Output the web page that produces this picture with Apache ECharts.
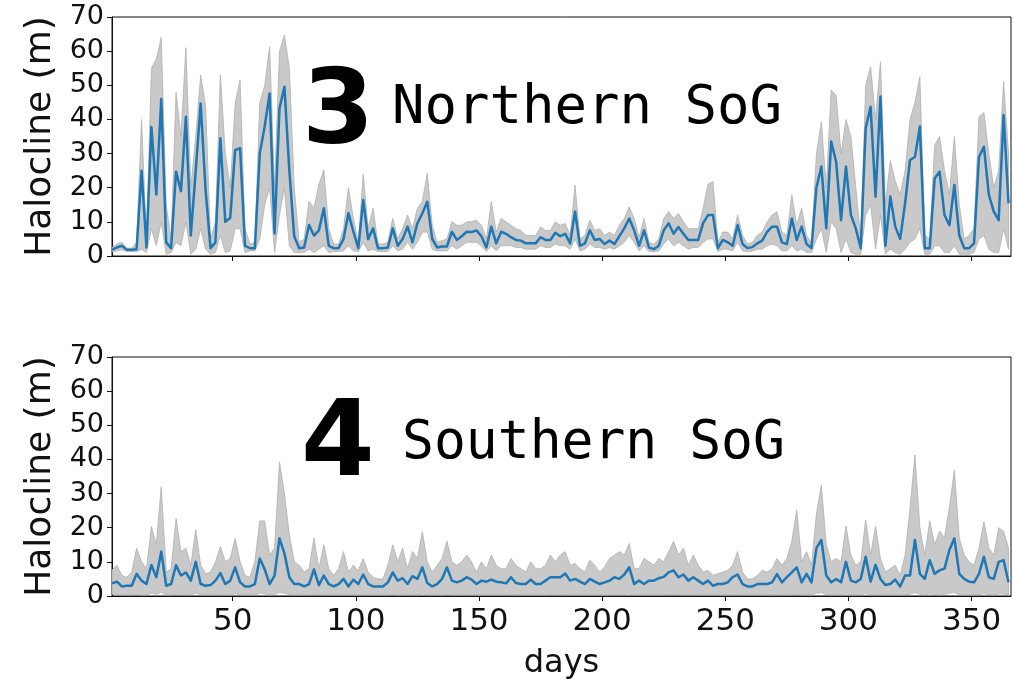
<!DOCTYPE html>
<html>
<head>
<meta charset="utf-8">
<script src="https://cdn.jsdelivr.net/npm/echarts@6/dist/echarts.min.js"></script>
<style>
  html, body { margin: 0; padding: 0; background: #fff; }
  #chart { width: 1015px; height: 687px; }
</style>
</head>
<body>
<div id="chart"></div>
<script>
// Day of year for each sample (every second day)
const days = [];
for (let d = 1; d <= 365; d += 2) days.push(d);

// Northern SoG halocline depth (m): mean and spread
const northMean = [
  1.8, 2.5, 3.0, 1.8, 1.8, 2.0, 25, 2.5, 37.8, 18, 46, 4, 2.3, 24.7, 19, 40.8, 6, 25, 44.7, 19.3,
  2.3, 4, 34.5, 10, 11.1, 31, 31.6, 3, 2.3, 2.3, 30, 38, 47.6, 6.6, 43.2, 49.6, 25, 5.7, 2.3, 2.5,
  9.1, 6, 7.5, 14, 3, 2.3, 2.3, 5, 12.5, 7.1, 2.3, 16.4, 4.9, 8.1, 2.3, 2.3, 2.5, 8.1, 3, 5,
  8.6, 4, 9.6, 12.5, 15.9, 5, 2.5, 2.8, 2.8, 7.1, 4.7, 5.8, 7.1, 7, 7.5, 5.8, 2.5, 8.6, 3.7, 7.1,
  6.5, 5.5, 4.7, 4.5, 3.7, 3.7, 3.7, 5.5, 4.7, 4.7, 6.8, 5.8, 6.5, 3.7, 13, 3, 3.7, 7.5, 4.7, 5,
  3.5, 4.5, 3.5, 5.8, 8.1, 11, 7.5, 3, 7.5, 2.5, 2.0, 3, 7.5, 9.6, 6.5, 8.5, 6.5, 4.7, 4.7, 4.7,
  9.6, 12, 12, 2.3, 4.7, 4, 3, 9.1, 3.5, 2.3, 2.6, 3.7, 4.5, 7.1, 8.6, 8.6, 4, 3.5, 11, 4.7,
  8.6, 3.5, 2.3, 20, 26.2, 8.1, 33.5, 27.6, 10.5, 26.2, 12, 8, 2.3, 37.4, 43.7, 17.4, 46.7, 3, 17.4, 8.6,
  5, 15.4, 28.1, 29, 37.9, 2.3, 2.3, 22.7, 24.7, 12, 9, 20.8, 6, 2.3, 2.3, 3.7, 29, 32, 18, 13,
  10.5, 41.3, 15.4
];
const northUpper = [
  2.5, 3.5, 4.0, 2.3, 2.3, 4, 40, 5, 55, 57.7, 64, 15, 5, 48, 35, 61, 20, 35, 53, 44,
  5, 10, 53, 30, 20, 44.7, 51.5, 8, 3.5, 4, 45, 50, 61.3, 20, 60, 64.7, 55, 20, 4, 5,
  16, 14, 21, 25.2, 8, 3.5, 3.5, 8, 20, 11, 4, 24, 8, 14, 3.5, 3.5, 4, 11, 5, 8,
  12, 8, 14, 16, 24.2, 9, 4, 4.5, 5, 10, 9, 9, 10, 10, 10.5, 9, 5, 16, 7, 11,
  10, 9, 8, 7.5, 6, 6, 6, 8.5, 7.5, 7.5, 10, 9, 9.5, 6, 20.8, 5, 6, 10.5, 7.5, 8,
  6, 7, 6, 9, 11, 14.4, 11, 5.5, 11, 4, 3.5, 5, 11, 13, 11, 12.5, 10, 8, 8, 8,
  14, 21, 21.8, 4, 7, 7, 5, 12, 6, 3.5, 4, 6, 7, 10, 12, 13, 7, 6, 17.9, 9,
  14, 6, 4, 30, 39.3, 20, 48.6, 47, 30, 40, 35, 20, 5, 50, 55.4, 40, 56.9, 15, 28, 22,
  18, 25, 40, 45, 52.5, 6, 5, 32.5, 35, 25, 18, 35, 15, 5, 6, 8, 40.8, 42, 30, 20,
  25, 51, 30
];
const northLower = [
  1.2, 1.5, 1.8, 1.3, 1.3, 1.3, 2, 1, 8, 3, 10, 0.5, 1, 4, 3, 10, 0.5, 2, 8, 2,
  0.5, 1, 6, 1, 1.5, 8, 8, 1, 1.5, 1.5, 5, 15, 20, 1, 12, 20, 3, 1, 1, 1,
  2, 1, 2, 3, 1, 1.3, 1.3, 1.5, 3, 1.5, 1.3, 4, 1.5, 2, 1.3, 1.3, 1.3, 3, 1.5, 2,
  4, 2, 4, 7, 7, 2, 1.5, 1.5, 1.5, 3, 2, 3, 4, 4, 4, 3, 1.3, 3, 1.5, 3,
  3, 3, 2.5, 2.5, 2, 2, 2, 3, 2.5, 2.5, 3.5, 3, 3, 2, 5, 1.5, 2, 3.5, 2.5, 2.5,
  2, 2.5, 2, 3, 4, 6, 4, 1.5, 3, 1.3, 1.2, 1.5, 3.5, 5, 3, 4, 3, 2, 2.5, 2.5,
  4, 5, 5, 1.3, 2, 2, 1.5, 4, 1.5, 1.3, 1.4, 2, 2, 3, 3.5, 3, 1.5, 1.5, 3, 1.5,
  2, 1, 1, 5, 8, 1, 10, 8, 1, 5, 1, 0.5, 0.5, 12, 15, 2, 12, 0.5, 2, 1,
  0.5, 2, 4, 5, 8, 0.5, 0.5, 3, 3, 1, 1, 3, 0.5, 0.5, 0.5, 1, 5, 6, 2, 1,
  1, 8, 2
];

// Southern SoG halocline depth (m): mean and spread
const southMean = [
  3.7, 4.2, 2.8, 3, 3, 6.5, 4.5, 3.5, 9.1, 5.5, 13, 3, 3.5, 9, 6, 6.9, 4.5, 10, 3.5, 3,
  3.2, 4.5, 6.7, 3.5, 4.5, 8.4, 4, 2.8, 2.8, 3.5, 11, 7.8, 3.5, 6, 16.9, 12.5, 5.5, 3.5, 3.5, 2.8,
  3.5, 7.8, 3.2, 6, 3.5, 2.8, 3.5, 5, 2.8, 4.8, 3.5, 6.3, 3.5, 2.8, 2.8, 2.8, 4, 6.9, 4.5, 5.2,
  3.5, 5.8, 5, 8.4, 3.8, 2.8, 3.5, 5, 8.4, 4.5, 4, 4.5, 5.5, 4.8, 3.5, 4.5, 4.2, 4.8, 4.2, 4,
  3.7, 5.5, 3.8, 3.5, 3.5, 4.8, 3.5, 3.5, 4.5, 5.5, 5.5, 5.5, 6.6, 4.5, 5, 4.2, 3.5, 5, 4.2, 3.5,
  4, 4.5, 5.5, 5, 6.3, 8.4, 3.5, 4.5, 3.5, 4.5, 4.5, 5.2, 5.6, 6.9, 7.5, 5.5, 6.3, 4.5, 5.5, 4.5,
  3.5, 4.5, 3, 3.5, 3.5, 4, 5.5, 6.3, 3.5, 2.8, 2.8, 3.5, 3.5, 3.5, 4, 6.4, 4, 5.5, 6.9, 8.4,
  4, 6.5, 4, 14, 16.4, 6, 4, 5, 4, 10, 4.5, 4, 5, 11.5, 4.2, 9.1, 5, 3.2, 3.5, 4.8,
  2.8, 6, 6, 16.4, 6.5, 5, 10.5, 6.5, 7.5, 8, 13.5, 16.9, 6.5, 5, 4.2, 4, 6.5, 11.5, 5.5, 5,
  10, 10.5, 4
];
const southUpper = [
  7.6, 9, 6, 5.5, 7, 14, 10, 8, 20.3, 15, 32, 7, 8, 22.7, 13, 14, 9, 19.5, 9, 6.5,
  7, 10, 14.5, 10, 11, 16.9, 10, 6, 5.5, 10, 22, 22, 12, 14, 39.3, 30, 18, 10, 9, 7,
  8, 17, 8, 15, 8, 6, 8, 13, 7, 9, 7.5, 11, 7, 5.5, 5, 5, 9, 15, 10, 14,
  8, 13, 11, 18.8, 10, 7, 9, 11, 16, 10, 9, 10, 12, 10, 7, 10, 8, 12, 9, 8,
  8, 11, 9, 8, 7, 10, 8, 8, 9, 12, 10, 12, 13, 9, 9.5, 8, 7, 10.5, 9, 7,
  8.5, 11, 12, 13, 12, 15.4, 8, 8, 11, 10, 9, 11, 10, 13, 16, 12, 14, 9, 12, 9,
  7, 7.5, 6, 6.5, 7, 7.5, 9, 13, 7, 5, 5, 6, 7.5, 7, 8, 11, 9, 11, 16, 25.2,
  10, 13, 9, 24, 32.5, 15, 10, 11, 10, 20.5, 12, 9, 10, 22.3, 12, 20.5, 11, 7, 8, 9,
  6, 12, 25.7, 41.3, 20, 12, 22, 15, 19, 17, 26, 36.9, 17, 12, 10, 9, 14, 21.8, 14, 12,
  20, 19, 14
];
const southLower = [
  0.5, 0.5, 0.3, 0.3, 0.3, 0.5, 0.3, 0.3, 0.8, 0.5, 1, 0.3, 0.3, 0.5, 0.5, 0.5, 0.3, 0.8, 0.3, 0.3,
  0.3, 0.3, 0.5, 0.3, 0.3, 0.6, 0.3, 0.3, 0.3, 0.3, 0.8, 0.6, 0.3, 0.4, 1, 0.8, 0.4, 0.3, 0.3, 0.3,
  0.3, 0.5, 0.3, 0.4, 0.3, 0.3, 0.3, 0.3, 0.3, 0.3, 0.3, 0.4, 0.3, 0.3, 0.3, 0.3, 0.3, 0.5, 0.3, 0.3,
  0.3, 0.4, 0.3, 0.6, 0.3, 0.3, 0.3, 0.3, 0.5, 0.3, 0.3, 0.3, 0.4, 0.3, 0.3, 0.3, 0.3, 0.3, 0.3, 0.3,
  0.3, 0.4, 0.3, 0.3, 0.3, 0.3, 0.3, 0.3, 0.3, 0.4, 0.4, 0.4, 0.4, 0.3, 0.3, 0.3, 0.3, 0.3, 0.3, 0.3,
  0.3, 0.3, 0.4, 0.3, 0.4, 0.6, 0.3, 0.3, 0.3, 0.3, 0.3, 0.3, 0.4, 0.4, 0.5, 0.4, 0.4, 0.3, 0.4, 0.3,
  0.3, 0.3, 0.3, 0.3, 0.3, 0.3, 0.3, 0.4, 0.3, 0.3, 0.3, 0.3, 0.3, 0.3, 0.3, 0.4, 0.3, 0.3, 0.4, 0.5,
  0.3, 0.4, 0.3, 0.8, 1, 0.4, 0.3, 0.3, 0.3, 0.6, 0.3, 0.3, 0.3, 0.7, 0.3, 0.5, 0.3, 0.3, 0.3, 0.3,
  0.3, 0.4, 0.5, 1, 0.5, 0.3, 0.6, 0.4, 0.5, 0.5, 0.8, 1, 0.4, 0.3, 0.3, 0.3, 0.4, 0.7, 0.4, 0.3,
  0.6, 0.6, 0.3
];

const dayTicks = [50, 100, 150, 200, 250, 300, 350];

const BLUE = '#1f77b4';
const BAND = '#c9c9c9';
const BAND_EDGE = '#b0b0b0';
const INK = '#111';

const pairs = (vals) => days.map((d, i) => [d, vals[i]]);

// Shaded spread drawn as one polygon: upper edge forward, lower edge back
function bandRenderer(hi, lo) {
  return function (params, api) {
    const pts = [];
    for (let i = 0; i < days.length; i++) pts.push(api.coord([days[i], hi[i]]));
    for (let i = days.length - 1; i >= 0; i--) pts.push(api.coord([days[i], lo[i]]));
    return {
      type: 'polygon',
      shape: { points: pts },
      style: { fill: BAND, stroke: BAND_EDGE, lineWidth: 0.8 }
    };
  };
}

function panelSeries(idx, hi, lo, mean) {
  return [
    {
      type: 'custom', xAxisIndex: idx, yAxisIndex: idx,
      data: [[days[0], hi[0]]], silent: true, clip: true, z: 2,
      renderItem: bandRenderer(hi, lo)
    },
    {
      type: 'line', xAxisIndex: idx, yAxisIndex: idx,
      data: pairs(mean), symbol: 'none', silent: true,
      lineStyle: { color: BLUE, width: 2.5, join: 'round' }, z: 3
    }
  ];
}

function xAxisFor(idx, showLabels) {
  return {
    type: 'value', gridIndex: idx, min: 1, max: 366,
    axisLine: { show: true, onZero: false, lineStyle: { color: INK, width: 1 } },
    axisTick: { show: true, inside: false, length: 5, customValues: dayTicks, lineStyle: { color: INK } },
    axisLabel: {
      show: showLabels, customValues: dayTicks, color: INK, fontSize: 31,
      fontFamily: 'DejaVu Sans', margin: 10
    },
    splitLine: { show: false },
    name: showLabels ? 'days' : '',
    nameLocation: 'middle', nameGap: 52,
    nameTextStyle: { color: INK, fontSize: 32, fontFamily: 'DejaVu Sans' }
  };
}

function yAxisFor(idx) {
  return {
    type: 'value', gridIndex: idx, min: 0, max: 70, interval: 10,
    axisLine: { show: true, lineStyle: { color: INK, width: 1 } },
    axisTick: { show: true, inside: false, length: 5, lineStyle: { color: INK } },
    axisLabel: { color: INK, fontSize: 27, fontFamily: 'DejaVu Sans', margin: 8 },
    splitLine: { show: false },
    name: 'Halocline (m)', nameLocation: 'middle', nameGap: 50, nameRotate: 90,
    nameTextStyle: { color: INK, fontSize: 36, fontFamily: 'DejaVu Sans' }
  };
}

const chart = echarts.init(document.getElementById('chart'), null, { renderer: 'canvas' });

chart.setOption({
  animation: false,
  backgroundColor: '#fff',
  grid: [
    { left: 112, right: 4, top: 17, height: 239, show: true, borderColor: INK, borderWidth: 1, backgroundColor: 'transparent' },
    { left: 112, right: 4, top: 357, height: 239, show: true, borderColor: INK, borderWidth: 1, backgroundColor: 'transparent' }
  ],
  xAxis: [xAxisFor(0, false), xAxisFor(1, true)],
  yAxis: [yAxisFor(0), yAxisFor(1)],
  series: [
    ...panelSeries(0, northUpper, northLower, northMean),
    ...panelSeries(1, southUpper, southLower, southMean)
  ],
  graphic: [
    { type: 'text', left: 302, top: 64, z: 10,
      style: { text: '3', fontSize: 104, fontWeight: 'bold', fontFamily: 'DejaVu Sans', fill: '#000' } },
    { type: 'text', left: 392, top: 82, z: 10,
      style: { text: 'Northern SoG', fontSize: 54, fontFamily: 'DejaVu Sans Mono', fill: '#000' } },
    { type: 'text', left: 301, top: 394, z: 10,
      style: { text: '4', fontSize: 106, fontWeight: 'bold', fontFamily: 'DejaVu Sans', fill: '#000' } },
    { type: 'text', left: 402, top: 418, z: 10,
      style: { text: 'Southern SoG', fontSize: 53, fontFamily: 'DejaVu Sans Mono', fill: '#000' } }
  ]
});
</script>
</body>
</html>
